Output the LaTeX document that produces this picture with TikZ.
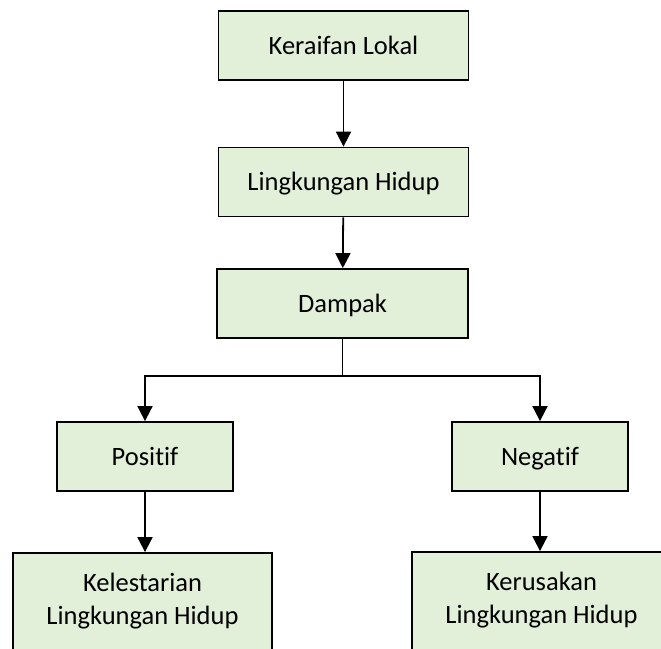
\documentclass[tikz,border=0pt]{standalone}
\usepackage{fontspec}
\setmainfont{Carlito}[Ligatures=NoCommon]
\usetikzlibrary{arrows.meta}
\definecolor{boxgreen}{HTML}{E2EFD9}
\begin{document}
\begin{tikzpicture}[x=1pt,y=-1pt,
    cell/.style={draw=black,fill=boxgreen,line width=1.8pt,inner sep=0pt,
      font=\fontsize{26.5}{32.5}\selectfont},
    box/.style={cell,minimum height=69pt,text height=17pt,text depth=0pt},
    bigbox/.style={cell,minimum width=259pt,minimum height=100pt,align=center,text depth=8pt},
    arrow/.style={line width=1.8pt,-{Triangle[width=15pt,length=15pt]}}]
  \clip (0,0) rectangle (661,648);
  \node[box,minimum width=250pt] (lokal) at (343.5,45.5) {Keraifan Lokal};
  \node[box,minimum width=250pt] (hidup) at (343.5,182) {Lingkungan Hidup};
  \node[box,minimum width=251pt] (dampak) at (342.5,303.5) {Dampak};
  \node[box,minimum width=176pt] (positif) at (145,456.5) {Positif};
  \node[box,minimum width=176pt] (negatif) at (540,456.5) {Negatif};
  \node[bigbox] (lestari) at (142.5,603) {Kelestarian\\Lingkungan Hidup};
  \node[bigbox] (rusak) at (541.5,602) {Kerusakan\\Lingkungan Hidup};
  \coordinate (split) at (342.5,376);
  \draw[arrow] (lokal) -- (hidup);
  \draw[arrow] (hidup) -- (dampak);
  \draw[line width=1.5pt] (dampak) -- (split);
  \draw[arrow] (split) -| (positif);
  \draw[arrow] (split) -| (negatif);
  \draw[arrow] (positif) -- (positif |- lestari.north);
  \draw[arrow] (negatif) -- (negatif |- rusak.north);
\end{tikzpicture}
\end{document}
